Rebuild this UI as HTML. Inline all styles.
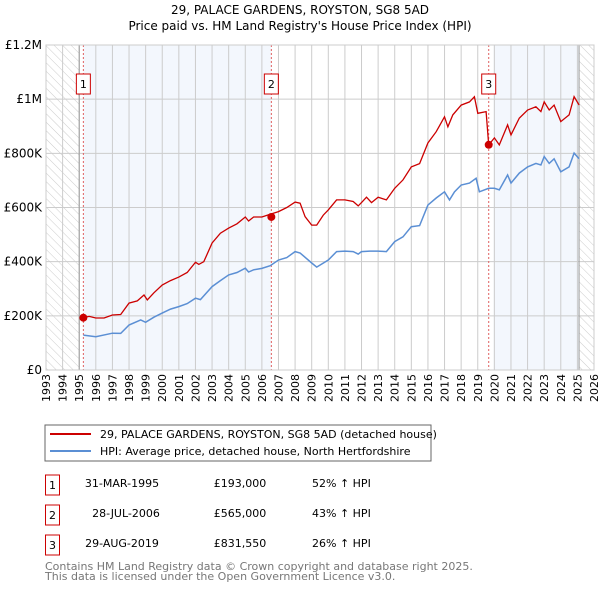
<!DOCTYPE html>
<html><head><meta charset="utf-8"><style>
body{margin:0;background:#fff;width:600px;height:590px;overflow:hidden;font-family:"DejaVu Sans","Liberation Sans",sans-serif}
svg text{font-family:"DejaVu Sans","Liberation Sans",sans-serif}
</style></head><body>
<svg id="c" width="600" height="590" viewBox="0 0 600 590">
<defs><pattern id="hatch" width="6" height="6" patternUnits="userSpaceOnUse" patternTransform="rotate(-45)"><line x1="0" y1="0" x2="0" y2="6" stroke="#ccc" stroke-width="1"/></pattern></defs>
<text x="300" y="14" text-anchor="middle" font-size="12">29, PALACE GARDENS, ROYSTON, SG8 5AD</text>
<text x="300" y="30" text-anchor="middle" font-size="12">Price paid vs. HM Land Registry's House Price Index (HPI)</text>
<g id="plot"></g>
<rect x="45" y="425" width="386" height="36" fill="#fff" stroke="#666"/>
<line x1="50" y1="434" x2="91" y2="434" stroke="#cc0000" stroke-width="2"/>
<text x="100" y="438" font-size="11">29, PALACE GARDENS, ROYSTON, SG8 5AD (detached house)</text>
<line x1="50" y1="451" x2="91" y2="451" stroke="#5b8fd4" stroke-width="2"/>
<text x="100" y="455" font-size="11">HPI: Average price, detached house, North Hertfordshire</text>
<g font-size="11">
<rect x="45.5" y="475" width="14" height="20" fill="#fff" stroke="#cc0000"/><text x="52.5" y="489" text-anchor="middle">1</text>
<text x="122" y="487" text-anchor="middle">31-MAR-1995</text><text x="240" y="487" text-anchor="middle">£193,000</text><text x="312" y="487">52% ↑ HPI</text>
<rect x="45.5" y="505" width="14" height="20" fill="#fff" stroke="#cc0000"/><text x="52.5" y="519" text-anchor="middle">2</text>
<text x="126" y="517" text-anchor="middle">28-JUL-2006</text><text x="240" y="517" text-anchor="middle">£565,000</text><text x="312" y="517">43% ↑ HPI</text>
<rect x="45.5" y="535" width="14" height="20" fill="#fff" stroke="#cc0000"/><text x="52.5" y="549" text-anchor="middle">3</text>
<text x="122" y="547" text-anchor="middle">29-AUG-2019</text><text x="240" y="547" text-anchor="middle">£831,550</text><text x="312" y="547">26% ↑ HPI</text>
</g>
<text x="45" y="570" font-size="11" fill="#777">Contains HM Land Registry data © Crown copyright and database right 2025.</text>
<text x="45" y="580" font-size="11" fill="#777">This data is licensed under the Open Government Licence v3.0.</text>
</svg>
<script>
const yTicks=[0,200,400,600,800,1000,1200];
const yTickLabels=["£0","£200K","£400K","£600K","£800K","£1M","£1.2M"];
const years=[1993,1994,1995,1996,1997,1998,1999,2000,2001,2002,2003,2004,2005,2006,2007,2008,2009,2010,2011,2012,2013,2014,2015,2016,2017,2018,2019,2020,2021,2022,2023,2024,2025,2026];
const propT=[1995.25,1995.6,1996,1996.5,1997,1997.5,1998,1998.5,1998.9,1999.1,1999.5,2000,2000.5,2001,2001.5,2002,2002.2,2002.5,2003,2003.5,2004,2004.5,2005,2005.2,2005.5,2006,2006.5,2007,2007.5,2008,2008.3,2008.6,2009,2009.3,2009.7,2010,2010.5,2011,2011.5,2011.8,2012,2012.3,2012.6,2013,2013.5,2014,2014.5,2015,2015.5,2016,2016.5,2017,2017.2,2017.5,2018,2018.5,2018.8,2019,2019.5,2019.66,2020,2020.3,2020.8,2021,2021.5,2022,2022.5,2022.8,2023,2023.3,2023.6,2024,2024.5,2024.8,2025.1];
const propV=[194,198,192,192,203,205,247,255,277,259,285,314,330,343,360,398,390,400,469,505,524,540,565,550,565,565,575,585,600,620,616,566,535,535,572,591,628,628,622,606,618,638,618,638,628,671,702,750,762,838,880,935,898,942,978,990,1009,948,954,831,857,831,905,868,930,960,972,954,990,960,978,917,942,1009,978];
const hpiT=[1995.25,1996,1997,1997.5,1998,1998.7,1999,1999.5,2000,2000.5,2001,2001.5,2002,2002.3,2003,2003.5,2004,2004.5,2005,2005.2,2005.5,2006,2006.5,2007,2007.5,2008,2008.3,2009,2009.3,2010,2010.5,2011,2011.5,2011.8,2012,2012.5,2013,2013.5,2014,2014.5,2015,2015.5,2016,2016.5,2017,2017.3,2017.6,2018,2018.5,2018.9,2019.1,2019.66,2020,2020.3,2020.8,2021,2021.5,2022,2022.5,2022.8,2023,2023.3,2023.6,2024,2024.5,2024.8,2025.1];
const hpiV=[129,123,136,135,166,185,176,195,210,225,234,245,265,260,308,330,351,360,376,362,370,375,385,406,415,437,432,395,380,406,437,439,437,428,437,439,439,437,474,492,529,533,609,635,658,628,658,683,690,708,658,671,671,665,720,690,727,750,763,757,788,763,780,732,750,801,780];
const saleT=[1995.25,2006.57,2019.66];
const saleV=[193,565,831.55];
const saleLabels=["1","2","3"];
const X0=46,X1=594,Y0=370,Y1=45;
function x(t){return X0+(t-1993)/(2026-1993)*(X1-X0);}
function y(v){return Y0-v/1200*(Y0-Y1);}
const NS="http://www.w3.org/2000/svg",g=document.getElementById('plot');
function el(tag,at,parent){const e=document.createElementNS(NS,tag);for(const k in at)e.setAttribute(k,at[k]);(parent||g).appendChild(e);return e;}
let e;
e=el('rect',{x:x(1993),y:Y1,width:x(1995)-x(1993),height:Y0-Y1,fill:'url(#hatch)'});


e=el('rect',{x:x(2025.1),y:Y1,width:X1-x(2025.1),height:Y0-Y1,fill:'url(#hatch)'});


e=el('rect',{x:x(saleT[0]),y:Y1,width:x(saleT[1])-x(saleT[0]),height:Y0-Y1,fill:'#eef3fc',opacity:0.7});


e=el('rect',{x:x(2019.95),y:Y1,width:x(2025.1)-x(2019.95),height:Y0-Y1,fill:'#eef3fc',opacity:0.7});


years.forEach((yr,i)=>{
 e=el('line',{x1:x(yr),x2:x(yr),y1:Y1,y2:Y0,stroke:'#ccc','stroke-width':1});
 
 
 const tx=x(yr)+4,ty=Y0+4;
 e=el('text',{x:tx,y:ty,transform:`rotate(-90 ${tx} ${ty})`,'text-anchor':'end','font-size':11});
 e.textContent=yr;
 
 
});
yTicks.forEach((v,i)=>{
 e=el('line',{x1:X0,x2:X1,y1:y(v),y2:y(v),stroke:'#ccc','stroke-width':1});
 
 
 e=el('text',{x:X0-4,y:y(v)+4,'text-anchor':'end','font-size':12});
 e.textContent=yTickLabels[i];
 
 
});
e=el('line',{x1:x(1995),x2:x(1995),y1:Y1,y2:Y0,stroke:'#999'});


e=el('line',{x1:x(2025.1),x2:x(2025.1),y1:Y1,y2:Y0,stroke:'#999'});


saleT.forEach((t,i)=>{
 e=el('line',{x1:x(t),x2:x(t),y1:Y1,y2:Y0,stroke:'#e06060','stroke-dasharray':'2,2','stroke-width':1});
 
 
});
function pts(T,V){return T.map((t,i)=>x(t).toFixed(1)+','+y(V[i]).toFixed(1)).join(' ');}
e=el('polyline',{points:pts(hpiT,hpiV),fill:'none',stroke:'#5b8fd4','stroke-width':1.5});


e=el('polyline',{points:pts(propT,propV),fill:'none',stroke:'#cc0000','stroke-width':1.3});


saleT.forEach((t,i)=>{
 e=el('circle',{cx:x(t),cy:y(saleV[i]),r:4,fill:'#cc0000'});
 
 
 e=el('rect',{x:x(t)-7,y:74,width:14,height:20,fill:'#fff',stroke:'#cc0000'});
 
 
 e=el('text',{x:x(t),y:88,'text-anchor':'middle','font-size':11});
 e.textContent=saleLabels[i];
 
 
});
e=el('rect',{x:X0,y:Y1,width:X1-X0,height:Y0-Y1,fill:'none',stroke:'#ccc'});


</script>
</body></html>
